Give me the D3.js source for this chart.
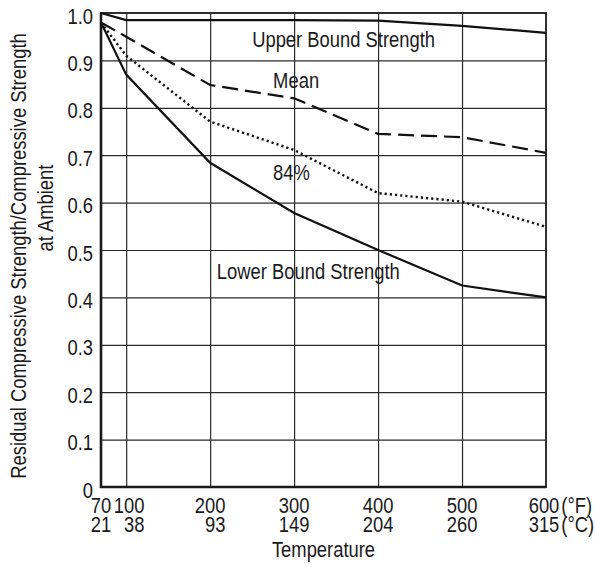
<!DOCTYPE html>
<html>
<head>
<meta charset="utf-8">
<script src="https://cdn.jsdelivr.net/npm/d3@7"></script>
<style>
  body { margin: 0; background: #fff; }
  svg text { font-family: "Liberation Sans", Arial, sans-serif; fill: #1a1a1a; font-size: 21.5px; }
  .grid line { stroke: #2a2a2a; stroke-width: 1.2; }
  .grid path { display: none; }
</style>
</head>
<body>
<div id="chart"></div>
<script>
// temperatures (°F) and the matching °C labels
const tempsF = [70, 100, 200, 300, 400, 500, 600];
const tempsC = [21, 38, 93, 149, 204, 260, 315];
const yTicks = [0, 0.1, 0.2, 0.3, 0.4, 0.5, 0.6, 0.7, 0.8, 0.9, 1.0];

// residual strength ratio read at each temperature
const upperBound = [1.0, 0.985, 0.985, 0.985, 0.984, 0.973, 0.958];
const mean = [0.98, 0.95, 0.848, 0.82, 0.745, 0.738, 0.705];
const pct84 = [0.98, 0.91, 0.771, 0.711, 0.62, 0.602, 0.549];
const lowerBound = [0.98, 0.87, 0.684, 0.578, 0.5, 0.425, 0.4];

const labels = [
  { text: "Upper Bound Strength", t: 250, v: 0.928 },
  { text: "Mean", t: 275, v: 0.842 },
  { text: "84%", t: 275, v: 0.648 },
  { text: "Lower Bound Strength", t: 208, v: 0.439 }
];

const W = 596, H = 567;
const margin = { top: 13, right: 50, bottom: 80, left: 101 };
const width = W - margin.left - margin.right;
const height = H - margin.top - margin.bottom;
const squeeze = 0.855; // the original type is a condensed grotesque

const svg = d3.select("#chart").append("svg")
  .attr("width", W)
  .attr("height", H);

const g = svg.append("g")
  .attr("transform", `translate(${margin.left},${margin.top})`);

// condensed text: placed in a squeezed group
function label(parent, px, py, str, anchor, rot) {
  const t = parent.append("g")
    .attr("transform", `translate(${px},${py})` + (rot ? ` rotate(${rot})` : "") + ` scale(${squeeze},1)`)
    .append("text")
    .attr("text-anchor", anchor || "start")
    .text(str);
  return t;
}

const x = d3.scaleLinear().domain([70, 600]).range([0, width]);
const y = d3.scaleLinear().domain([0, 1]).range([height, 0]);

// grid lines
g.append("g")
  .attr("class", "grid")
  .attr("transform", `translate(0,${height})`)
  .call(d3.axisBottom(x).tickValues(tempsF.slice(1, -1)).tickSize(-height).tickFormat(""));
g.append("g")
  .attr("class", "grid")
  .call(d3.axisLeft(y).tickValues(yTicks.slice(1, -1)).tickSize(-width).tickFormat(""));

// frame
g.append("rect")
  .attr("width", width).attr("height", height)
  .attr("fill", "none").attr("stroke", "#1a1a1a").attr("stroke-width", 1.8);
g.append("path")
  .attr("d", `M0,0V${height}H${width}`)
  .attr("fill", "none").attr("stroke", "#1a1a1a").attr("stroke-width", 2.6);

// y tick labels
yTicks.forEach(d => {
  label(g, -8, y(d) + 3, d === 0 ? "0" : d.toFixed(1), "end").attr("dy", "0.35em");
});

// x tick labels, two rows
tempsF.forEach((t, i) => {
  const shift = i === 1 ? 3 : (i === tempsF.length - 1 ? -2 : 0);
  const f = label(g, x(t) + shift, height + 26, t, "middle");
  const half = f.node().getComputedTextLength() * squeeze / 2;
  const cx = x(t) + shift + half;
  label(g, cx, height + 44.5, tempsC[i], "end");
  if (i === tempsF.length - 1) {
    label(g, cx + 2, height + 26, "(°F)");
    label(g, cx + 2, height + 44.5, "(°C)");
  }
});

// axis titles
label(g, width / 2, height + 70, "Temperature", "middle");
label(svg, 26, 256, "Residual Compressive Strength/Compressive Strength", "middle", -90);
label(svg, 53, 208, "at Ambient", "middle", -90);

// curves
const line = d3.line()
  .x((d, i) => x(tempsF[i]))
  .y(d => y(d));

const series = [
  { data: upperBound, dash: null, w: 2.2 },
  { data: mean, dash: "16,7", w: 2.2 },
  { data: pct84, dash: "2.2,3", w: 2.4 },
  { data: lowerBound, dash: null, w: 2.2 }
];

g.selectAll(".curve").data(series).enter().append("path")
  .attr("class", "curve")
  .attr("d", d => line(d.data))
  .attr("fill", "none")
  .attr("stroke", "#111")
  .attr("stroke-width", d => d.w)
  .attr("stroke-dasharray", d => d.dash);

// curve labels
labels.forEach(d => label(g, x(d.t), y(d.v), d.text));
</script>
</body>
</html>
